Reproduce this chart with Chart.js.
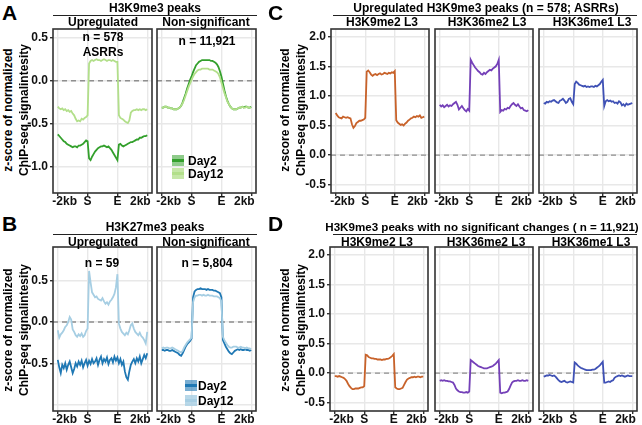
<!DOCTYPE html>
<html>
<head>
<meta charset="utf-8">
<script src="https://cdn.jsdelivr.net/npm/chart.js@4.4.0/dist/chart.umd.min.js"></script>
<style>
  body { margin: 0; background: #fff; }
  #fig { position: relative; width: 642px; height: 425px; overflow: hidden;
         font-family: "Liberation Sans", Arial, sans-serif; font-weight: bold; color: #000; }
  #fig canvas { position: absolute; }
  .t, .l, .letter, .rule, .yt, .key, .xl { z-index: 2; }
  .t { position: absolute; white-space: nowrap; transform: translate(-50%, -50%); font-size: 12px; line-height: 1; }
  .l { position: absolute; white-space: nowrap; transform: translateY(-50%); font-size: 12px; line-height: 1; }
  .xl { position: absolute; white-space: nowrap; transform: translateX(-50%); font-size: 12px; line-height: 1; color: #111; }
  .letter { position: absolute; font-size: 21px; line-height: 1; }
  .rule { position: absolute; height: 1.3px; background: #222; }
  .yt { position: absolute; white-space: nowrap; font-size: 12px; line-height: 1;
        transform: translate(-50%, -50%) rotate(-90deg); }
  .key { position: absolute; width: 12px; height: 11px; }
  .key i { position: absolute; left: 0; right: 0; top: 4px; height: 3px; }
</style>
</head>
<body>
<div id="fig">
  <div class="letter" style="left:2px;top:2px">A</div>
  <div class="letter" style="left:268px;top:2px">C</div>
  <div class="letter" style="left:2px;top:213px">B</div>
  <div class="letter" style="left:268px;top:213px">D</div>

  <div class="t" style="left:155px;top:8px">H3K9me3 peaks</div>
  <div class="rule" style="left:53px;top:15px;width:204px"></div>
  <div class="t" style="left:103px;top:22px">Upregulated</div>
  <div class="t" style="left:206px;top:22px">Non-significant</div>

  <div class="t" style="left:155px;top:227px">H3K27me3 peaks</div>
  <div class="rule" style="left:53px;top:234px;width:204px"></div>
  <div class="t" style="left:103px;top:242px">Upregulated</div>
  <div class="t" style="left:206px;top:242px">Non-significant</div>

  <div class="t" style="left:486px;top:8px">Upregulated H3K9me3 peaks (n = 578; ASRRs)</div>
  <div class="rule" style="left:333px;top:15px;width:304px"></div>
  <div class="t" style="left:382px;top:22px">H3K9me2 L3</div>
  <div class="t" style="left:487px;top:22px">H3K36me2 L3</div>
  <div class="t" style="left:592px;top:22px">H3K36me1 L3</div>

  <div class="t" style="left:482px;top:227px;font-size:11.6px">H3K9me3 peaks with no significant changes ( n = 11,921)</div>
  <div class="rule" style="left:333px;top:234px;width:304px"></div>
  <div class="t" style="left:377px;top:242px">H3K9me2 L3</div>
  <div class="t" style="left:486px;top:242px">H3K36me2 L3</div>
  <div class="t" style="left:591px;top:242px">H3K36me1 L3</div>

  <div class="yt" style="left:8px;top:110px">z-score of normalized</div>
  <div class="yt" style="left:24px;top:110px">ChIP-seq signalintesity</div>
  <div class="yt" style="left:8px;top:330px">z-score of normalized</div>
  <div class="yt" style="left:24px;top:330px">ChIP-seq signalintesity</div>
  <div class="yt" style="left:285px;top:110px">z-score of normalized</div>
  <div class="yt" style="left:301px;top:110px">ChIP-seq signalintesity</div>
  <div class="yt" style="left:285px;top:330px">z-score of normalized</div>
  <div class="yt" style="left:301px;top:330px">ChIP-seq signalintesity</div>

  <div class="t" style="left:103px;top:37px">n = 578</div>
  <div class="t" style="left:103px;top:52px">ASRRs</div>
  <div class="t" style="left:207px;top:41px">n = 11,921</div>
  <div class="t" style="left:102px;top:263px">n = 59</div>
  <div class="t" style="left:207px;top:263px">n = 5,804</div>

  <div class="key" style="left:172px;top:155px;background:rgba(51,160,44,0.55)"><i style="background:#33a02c"></i></div>
  <div class="l" style="left:188px;top:161px">Day2</div>
  <div class="key" style="left:172px;top:168px;background:rgba(178,223,138,0.75)"><i style="background:#b2df8a"></i></div>
  <div class="l" style="left:188px;top:174px">Day12</div>

  <div class="key" style="left:185px;top:380px;background:rgba(31,120,180,0.6)"><i style="background:#1f78b4"></i></div>
  <div class="l" style="left:198px;top:386px">Day2</div>
  <div class="key" style="left:185px;top:395px;background:rgba(166,206,227,0.8)"><i style="background:#a6cee3"></i></div>
  <div class="l" style="left:198px;top:401px">Day12</div>
</div>

<script>
// bin positions across the profile: -2kb .. S .. E .. 2kb
const bins = Array.from({ length: 61 }, (_, i) => i * 5);
const xGridVals = [0, 100, 200, 300];
// the outer labels sit a little inside their tick marks, as in the figure
const xLabelVals = [23, 100, 200, 277];
const xTickLabels = ['-2kb', 'S', 'E', '2kb'];

// --- A: H3K9me3 peaks ---
const aUpDay2 = [-0.62, -0.64, -0.66, -0.68, -0.70, -0.71, -0.73, -0.74, -0.75, -0.76, -0.77, -0.76, -0.76, -0.77, -0.75, -0.75, -0.74, -0.73, -0.71, -0.69, -0.70,
  -0.90, -0.92, -0.88, -0.85, -0.82, -0.80, -0.78, -0.77, -0.76, -0.76, -0.75, -0.76, -0.77, -0.76, -0.78, -0.80, -0.83, -0.86, -0.89, -0.92,
  -0.74, -0.73, -0.75, -0.76, -0.75, -0.74, -0.73, -0.72, -0.71, -0.71, -0.70, -0.69, -0.68, -0.68, -0.66, -0.66, -0.65, -0.64, -0.64, -0.63];
const aUpDay12 = [-0.30, -0.32, -0.33, -0.32, -0.34, -0.33, -0.35, -0.34, -0.36, -0.35, -0.38, -0.40, -0.44, -0.47, -0.46, -0.47, -0.44, -0.45, -0.43, -0.42, -0.40,
  0.20, 0.23, 0.24, 0.23, 0.24, 0.25, 0.24, 0.24, 0.23, 0.24, 0.25, 0.24, 0.23, 0.24, 0.24, 0.23, 0.24, 0.23, 0.22, 0.22,
  -0.40, -0.43, -0.44, -0.45, -0.47, -0.48, -0.49, -0.46, -0.37, -0.35, -0.34, -0.34, -0.33, -0.34, -0.33, -0.34, -0.33, -0.33, -0.34, -0.33];
const aNonDay2 = [-0.31, -0.31, -0.30, -0.30, -0.31, -0.31, -0.32, -0.32, -0.33, -0.33, -0.33, -0.32, -0.31, -0.29, -0.25, -0.20, -0.15, -0.09, -0.04, 0.01, 0.05,
  0.10, 0.14, 0.18, 0.20, 0.22, 0.23, 0.24, 0.24, 0.24, 0.24, 0.24, 0.24, 0.23, 0.23, 0.22, 0.21, 0.19, 0.16, 0.11, 0.05,
  -0.03, -0.11, -0.18, -0.23, -0.27, -0.30, -0.32, -0.33, -0.33, -0.33, -0.32, -0.31, -0.31, -0.30, -0.31, -0.30, -0.30, -0.31, -0.31, -0.30];
const aNonDay12 = [-0.31, -0.31, -0.30, -0.30, -0.31, -0.31, -0.32, -0.32, -0.33, -0.33, -0.33, -0.32, -0.31, -0.29, -0.26, -0.22, -0.17, -0.12, -0.07, -0.03, 0.01,
  0.05, 0.08, 0.10, 0.12, 0.13, 0.13, 0.14, 0.14, 0.14, 0.14, 0.14, 0.13, 0.13, 0.13, 0.12, 0.11, 0.10, 0.08, 0.04, -0.02,
  -0.08, -0.14, -0.19, -0.24, -0.27, -0.30, -0.32, -0.33, -0.33, -0.33, -0.32, -0.31, -0.31, -0.30, -0.31, -0.31, -0.30, -0.31, -0.31, -0.31];

// --- B: H3K27me3 peaks ---
const bUpDay2 = [-0.46, -0.55, -0.62, -0.52, -0.56, -0.50, -0.58, -0.52, -0.48, -0.55, -0.62, -0.57, -0.50, -0.54, -0.48, -0.52, -0.47, -0.55, -0.50, -0.46, -0.53,
  -0.47, -0.51, -0.45, -0.50, -0.48, -0.44, -0.52, -0.46, -0.42, -0.50, -0.45, -0.48, -0.43, -0.51, -0.46, -0.44, -0.49, -0.42, -0.47, -0.43,
  -0.50, -0.45, -0.52, -0.48, -0.60, -0.67, -0.70, -0.60, -0.52, -0.48, -0.45, -0.50, -0.44, -0.48, -0.42, -0.50, -0.45, -0.40, -0.44, -0.38];
const bUpDay12 = [-0.10, -0.19, -0.15, -0.13, -0.10, -0.06, -0.04, 0.00, 0.06, 0.03, -0.09, -0.12, -0.16, -0.18, -0.15, -0.17, -0.14, -0.18, -0.16, -0.11, -0.08,
  0.62, 0.48, 0.36, 0.33, 0.30, 0.31, 0.28, 0.27, 0.26, 0.29, 0.25, 0.22, 0.24, 0.21, 0.25, 0.27, 0.30, 0.34, 0.42, 0.58,
  -0.02, -0.08, -0.12, -0.14, -0.16, -0.13, -0.15, -0.10, -0.04, -0.02, -0.08, -0.12, -0.14, -0.16, -0.13, -0.17, -0.19, -0.22, -0.26, -0.12];
const bNonDay2 = [-0.34, -0.34, -0.35, -0.34, -0.34, -0.35, -0.35, -0.34, -0.35, -0.36, -0.37, -0.38, -0.40, -0.41, -0.38, -0.34, -0.30, -0.27, -0.25, -0.23, -0.20,
  0.30, 0.37, 0.39, 0.40, 0.40, 0.41, 0.40, 0.40, 0.40, 0.39, 0.40, 0.39, 0.39, 0.39, 0.38, 0.38, 0.37, 0.36, 0.35, 0.30,
  -0.22, -0.26, -0.30, -0.33, -0.36, -0.38, -0.39, -0.37, -0.35, -0.34, -0.33, -0.34, -0.33, -0.34, -0.34, -0.33, -0.34, -0.34, -0.35, -0.34];
const bNonDay12 = [-0.32, -0.31, -0.32, -0.31, -0.31, -0.32, -0.32, -0.31, -0.32, -0.33, -0.34, -0.35, -0.36, -0.37, -0.35, -0.31, -0.28, -0.25, -0.23, -0.21, -0.19,
  0.24, 0.30, 0.32, 0.32, 0.33, 0.33, 0.32, 0.33, 0.32, 0.32, 0.33, 0.32, 0.32, 0.32, 0.31, 0.31, 0.31, 0.30, 0.29, 0.25,
  -0.18, -0.22, -0.25, -0.28, -0.30, -0.31, -0.31, -0.30, -0.30, -0.30, -0.31, -0.31, -0.30, -0.31, -0.31, -0.32, -0.31, -0.32, -0.32, -0.33];

// --- C: upregulated H3K9me3 peaks (ASRRs) ---
const cK9me2 = [0.71, 0.67, 0.64, 0.63, 0.62, 0.65, 0.64, 0.63, 0.64, 0.63, 0.62, 0.52, 0.46, 0.49, 0.54, 0.56, 0.58, 0.58, 0.59, 0.60, 0.63,
  1.41, 1.43, 1.40, 1.36, 1.34, 1.36, 1.37, 1.35, 1.37, 1.38, 1.36, 1.37, 1.39, 1.38, 1.37, 1.39, 1.38, 1.40, 1.39, 1.42,
  0.59, 0.55, 0.53, 0.51, 0.52, 0.50, 0.53, 0.55, 0.58, 0.60, 0.62, 0.63, 0.65, 0.64, 0.66, 0.65, 0.67, 0.63, 0.64, 0.65];
const cK36me2 = [0.85, 0.82, 0.84, 0.81, 0.83, 0.85, 0.82, 0.84, 0.83, 0.86, 0.88, 0.90, 0.85, 0.77, 0.80, 0.83, 0.79, 0.76, 0.74, 0.78, 0.75,
  1.61, 1.56, 1.52, 1.48, 1.45, 1.42, 1.40, 1.37, 1.36, 1.39, 1.37, 1.40, 1.42, 1.44, 1.43, 1.46, 1.48, 1.50, 1.54, 1.61,
  0.73, 0.76, 0.75, 0.78, 0.77, 0.80, 0.79, 0.83, 0.86, 0.88, 0.85, 0.83, 0.86, 0.82, 0.79, 0.80, 0.76, 0.75, 0.74, 0.76];
const cK36me1 = [0.88, 0.87, 0.90, 0.89, 0.91, 0.90, 0.92, 0.93, 0.91, 0.89, 0.88, 0.92, 0.93, 0.95, 0.92, 0.88, 0.90, 0.95, 0.96, 0.90, 0.86,
  1.20, 1.24, 1.22, 1.19, 1.18, 1.17, 1.16, 1.17, 1.15, 1.16, 1.15, 1.16, 1.16, 1.15, 1.17, 1.16, 1.18, 1.20, 1.24, 1.27,
  0.83, 0.91, 0.93, 0.91, 0.92, 0.90, 0.91, 0.88, 0.89, 0.87, 0.91, 0.89, 0.84, 0.86, 0.83, 0.87, 0.85, 0.86, 0.87, 0.88];

// --- D: H3K9me3 peaks with no significant changes ---
const dK9me2 = [-0.05, -0.05, -0.06, -0.05, -0.06, -0.07, -0.08, -0.10, -0.13, -0.18, -0.22, -0.25, -0.27, -0.27, -0.26, -0.26, -0.26, -0.25, -0.24, -0.24, -0.22,
  0.31, 0.30, 0.27, 0.26, 0.25, 0.25, 0.24, 0.24, 0.23, 0.23, 0.23, 0.22, 0.23, 0.23, 0.24, 0.24, 0.25, 0.27, 0.29, 0.32,
  -0.24, -0.26, -0.27, -0.27, -0.26, -0.25, -0.20, -0.15, -0.11, -0.09, -0.08, -0.07, -0.07, -0.06, -0.07, -0.06, -0.06, -0.07, -0.06, -0.06];
const dK36me2 = [-0.13, -0.12, -0.13, -0.12, -0.13, -0.13, -0.14, -0.14, -0.15, -0.16, -0.20, -0.26, -0.29, -0.31, -0.32, -0.32, -0.33, -0.33, -0.32, -0.33, -0.31,
  0.22, 0.20, 0.18, 0.16, 0.14, 0.12, 0.11, 0.10, 0.09, 0.08, 0.08, 0.08, 0.09, 0.10, 0.11, 0.12, 0.14, 0.16, 0.19, 0.22,
  -0.33, -0.34, -0.33, -0.33, -0.32, -0.31, -0.27, -0.21, -0.16, -0.14, -0.13, -0.13, -0.12, -0.13, -0.13, -0.12, -0.13, -0.13, -0.12, -0.13];
const dK36me1 = [-0.06, -0.05, -0.04, -0.04, -0.03, -0.04, -0.05, -0.04, -0.06, -0.09, -0.12, -0.14, -0.15, -0.14, -0.13, -0.15, -0.16, -0.15, -0.14, -0.15, -0.16,
  0.18, 0.16, 0.13, 0.11, 0.09, 0.08, 0.07, 0.06, 0.05, 0.05, 0.05, 0.05, 0.06, 0.06, 0.07, 0.09, 0.11, 0.13, 0.16, 0.19,
  -0.16, -0.16, -0.15, -0.14, -0.15, -0.13, -0.12, -0.08, -0.06, -0.05, -0.04, -0.05, -0.04, -0.05, -0.06, -0.05, -0.04, -0.05, -0.05, -0.05];

const yTicksAB = [-1.0, -0.5, 0.0, 0.5];
const yTicksCD = [-0.5, 0.0, 0.5, 1.0, 1.5, 2.0];

Chart.defaults.font.family = '"Liberation Sans", Arial, sans-serif';
Chart.defaults.font.weight = 'bold';
Chart.defaults.color = '#111';

const fig = document.getElementById('fig');

// dashed zero line + dark frame around each panel
const framePlugin = {
    id: 'frame',
    beforeDatasetsDraw(chart) {
        const { ctx, chartArea: a, scales } = chart;
        const y0 = scales.y.getPixelForValue(0);
        ctx.save();
        ctx.strokeStyle = '#8f8f8f';
        ctx.lineWidth = 1.4;
        ctx.setLineDash([5, 4]);
        ctx.beginPath();
        ctx.moveTo(a.left, y0);
        ctx.lineTo(a.right, y0);
        ctx.stroke();
        ctx.restore();
    },
    afterDraw(chart) {
        const { ctx, chartArea: a } = chart;
        ctx.save();
        ctx.strokeStyle = '#333';
        ctx.lineWidth = 1.6;
        ctx.strokeRect(a.left, a.top, a.right - a.left, a.bottom - a.top);
        ctx.restore();
    }
};

function panel(box, yRange, yTicks, series, showY, hideLabels) {
    const yw = showY ? 30 : 14;
    const padR = 14, xh = 18;
    const w = yw + box[2] + padR, h = 1 + box[3] + xh;
    const left = box[0] - yw, top = box[1] - 1;
    const cv = document.createElement('canvas');
    cv.width = w; cv.height = h;
    cv.style.left = left + 'px';
    cv.style.top = top + 'px';
    cv.style.width = w + 'px';
    cv.style.height = h + 'px';
    fig.appendChild(cv);

    const chart = new Chart(cv, {
        type: 'line',
        data: {
            datasets: series.map(s => ({
                data: s.values.map((v, i) => ({ x: bins[i], y: v })),
                borderColor: s.color,
                borderWidth: 1.8,
                pointRadius: 0,
                tension: 0
            }))
        },
        options: {
            responsive: false,
            animation: false,
            layout: { padding: { left: 0, right: padR, top: 1, bottom: 0 } },
            plugins: { legend: { display: false }, tooltip: { enabled: false } },
            scales: {
                x: {
                    type: 'linear', min: -16, max: 316,
                    afterBuildTicks: s => { s.ticks = xGridVals.map(v => ({ value: v })); },
                    afterFit: s => { s.height = xh; },
                    ticks: { display: false },
                    grid: { color: '#e8e8e8', lineWidth: 1.4, tickColor: '#333', tickLength: 3 },
                    border: { display: false }
                },
                y: {
                    min: yRange[0], max: yRange[1],
                    afterBuildTicks: s => { s.ticks = yTicks.map(v => ({ value: v })); },
                    afterFit: s => { s.width = yw; s.paddingTop = 0; s.paddingBottom = 0; },
                    ticks: {
                        callback: v => (hideLabels.includes(v) ? '' : v.toFixed(1)),
                        font: { size: 12, weight: 'bold' },
                        color: showY ? '#111' : 'rgba(0,0,0,0)', padding: 2
                    },
                    grid: {
                        color: '#e8e8e8', lineWidth: 1.4, tickLength: 3,
                        tickColor: c => (!showY || (c.tick && hideLabels.includes(c.tick.value)) ? 'rgba(0,0,0,0)' : '#333')
                    },
                    border: { display: false }
                }
            }
        },
        plugins: [framePlugin]
    });

    // x tick labels placed from the chart's own x scale
    const xs = chart.scales.x;
    xLabelVals.forEach((v, i) => {
        const d = document.createElement('div');
        d.className = 'xl';
        d.textContent = xTickLabels[i];
        d.style.left = (left + xs.getPixelForValue(v)) + 'px';
        d.style.top = (top + chart.chartArea.bottom + 2) + 'px';
        fig.appendChild(d);
    });
}

const rangeA = [-1.3, 0.6], rangeB = [-1.08, 0.91], rangeCD = [-0.64, 2.13];

panel([53, 29, 99, 164], rangeA, yTicksAB,
    [{ values: aUpDay12, color: '#b2df8a' }, { values: aUpDay2, color: '#33a02c' }], true, []);
panel([157, 29, 99, 164], rangeA, yTicksAB,
    [{ values: aNonDay12, color: '#b2df8a' }, { values: aNonDay2, color: '#33a02c' }], false, []);

panel([53, 247, 99, 164], rangeB, yTicksAB,
    [{ values: bUpDay12, color: '#a6cee3' }, { values: bUpDay2, color: '#1f78b4' }], true, [-1.0]);
panel([157, 247, 99, 164], rangeB, yTicksAB,
    [{ values: bNonDay12, color: '#a6cee3' }, { values: bNonDay2, color: '#1f78b4' }], false, [-1.0]);

panel([331, 29, 98, 164], rangeCD, yTicksCD, [{ values: cK9me2, color: '#c8622a' }], true, []);
panel([435, 29, 98, 164], rangeCD, yTicksCD, [{ values: cK36me2, color: '#7440b8' }], false, []);
panel([539, 29, 98, 164], rangeCD, yTicksCD, [{ values: cK36me1, color: '#3f51b5' }], false, []);

panel([330, 247, 98, 164], rangeCD, yTicksCD, [{ values: dK9me2, color: '#c8622a' }], true, []);
panel([435, 247, 98, 164], rangeCD, yTicksCD, [{ values: dK36me2, color: '#7440b8' }], false, []);
panel([539, 247, 98, 164], rangeCD, yTicksCD, [{ values: dK36me1, color: '#3f51b5' }], false, []);
</script>
</body>
</html>
